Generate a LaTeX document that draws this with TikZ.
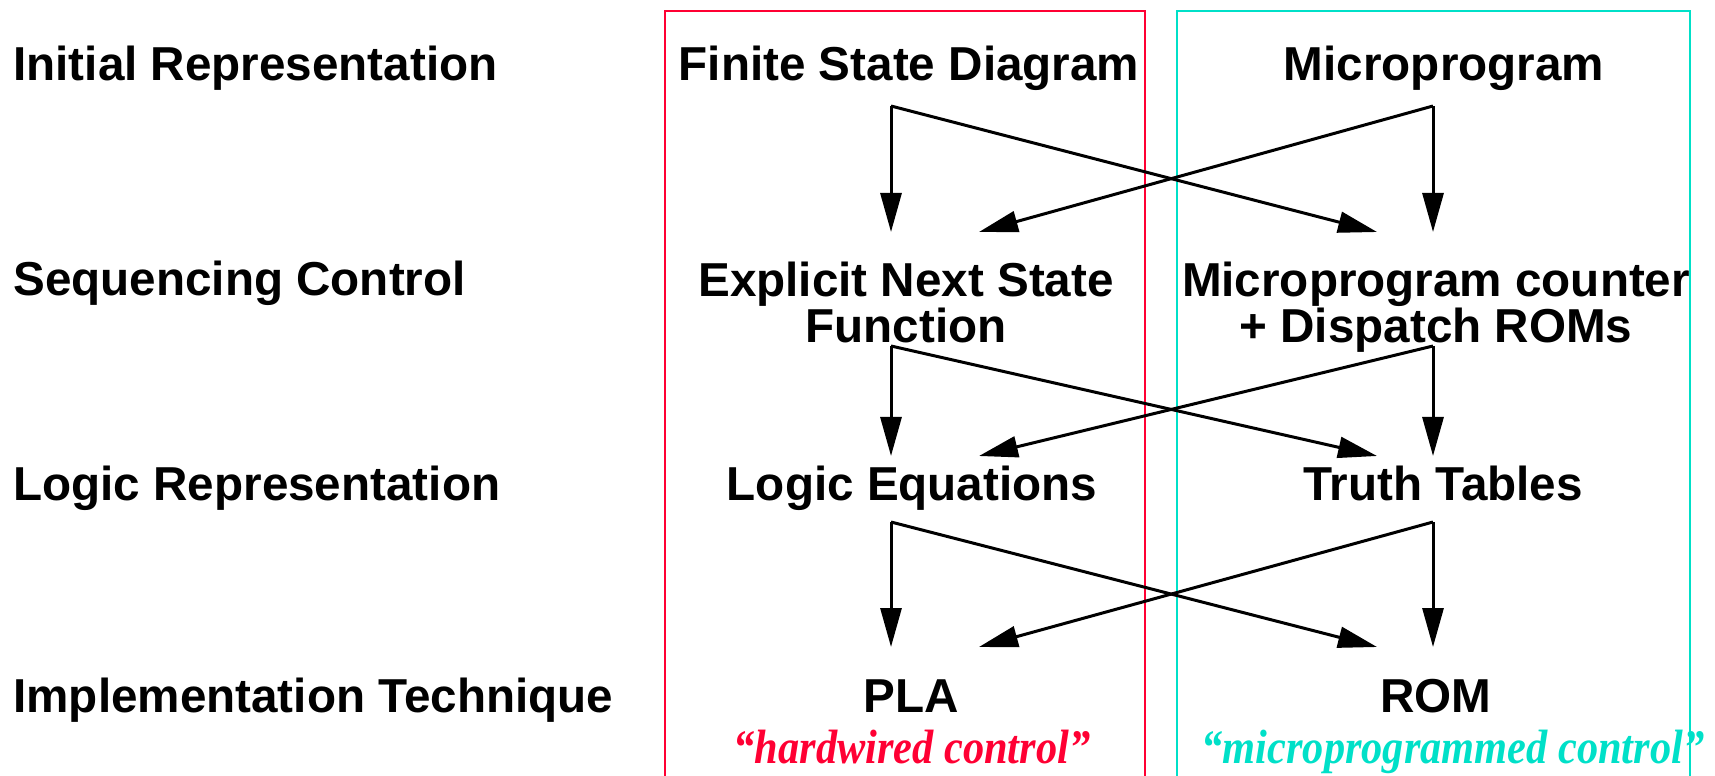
\documentclass[tikz,border=0pt]{standalone}
\usepackage{fontspec}
\setmainfont{Liberation Sans}
\newfontfamily\tagfont[FakeStretch=0.88]{Liberation Serif}
\usetikzlibrary{arrows.meta}

\definecolor{hwred}{RGB}{255,0,51}
\definecolor{mpcyan}{RGB}{0,224,200}

\tikzset{
  level/.style={font=\fontsize{27.1}{26.7}\selectfont\bfseries, inner sep=0pt, anchor=base west},
  stage/.style={font=\fontsize{27.1}{26.7}\selectfont\bfseries, inner sep=0pt, anchor=base, align=center},
  tagline/.style={font=\fontsize{27.4}{28}\selectfont\tagfont\bfseries\itshape, inner sep=0pt, anchor=base},
  flow/.style={-{Triangle[length=0.78cm,width=0.42cm]}, line width=0.06cm},
  column/.style={line width=0.045cm}
}

\begin{document}
\begin{tikzpicture}[x=1cm, y=1cm]

\useasboundingbox (0,0) rectangle (34.3,15.5);

% Colonnes : hardwired / microprogrammed

\draw [column, hwred] (13.30,-0.5) rectangle (22.90,15.28);
\draw [column, mpcyan] (23.54,-0.5) rectangle (33.80,15.28);

% Niveaux

\node [level] (init)  at (0.26,13.88) {Initial Representation};
\node [level] (seq)   at (0.26,9.58)  {Sequencing Control};
\node [level] (logic) at (0.26,5.48)  {Logic Representation};
\node [level] (impl)  at (0.26,1.26)  {Implementation Technique};

% Etapes (les noeuds sur deux lignes sont places par la derniere ligne)

\node [stage] (fsd)   at (18.18,13.88) {Finite State Diagram};
\node [stage] (mprog) at (28.88,13.88) {Microprogram};
\node [stage] (ens)   at (18.12,8.64)  {Explicit Next State\\Function};
\node [stage] (upc)   at (28.72,8.64)  {Microprogram counter\\+ Dispatch ROMs};
\node [stage] (leq)   at (18.24,5.48)  {Logic Equations};
\node [stage] (ttab)  at (28.86,5.48)  {Truth Tables};
\node [stage] (pla)   at (18.22,1.26)  {PLA};
\node [stage] (rom)   at (28.72,1.26)  {ROM};

\node [tagline, hwred]  (hwtag) at (18.24,0.24) {“hardwired control”};
\node [tagline, mpcyan] (mptag) at (29.06,0.24) {“microprogrammed control”};

% Points de depart et d'arrivee des fleches

\foreach \i/\ys/\ye in {1/13.38/10.86, 2/8.58/6.38, 3/5.06/2.56} {
  \coordinate (hw-out-\i)   at (17.82,\ys);
  \coordinate (mp-out-\i)   at (28.66,\ys);
  \coordinate (hw-in-\i)    at (17.82,\ye);
  \coordinate (hw-cross-\i) at (19.58,\ye);
  \coordinate (mp-in-\i)    at (28.66,\ye);
  \coordinate (mp-cross-\i) at (27.54,\ye);
}

% Fleches

\foreach \i in {1,2,3} {
  \draw [flow] (hw-out-\i) -- (hw-in-\i);
  \draw [flow] (hw-out-\i) -- (mp-cross-\i);
  \draw [flow] (mp-out-\i) -- (mp-in-\i);
  \draw [flow] (mp-out-\i) -- (hw-cross-\i);
}

\end{tikzpicture}
\end{document}
